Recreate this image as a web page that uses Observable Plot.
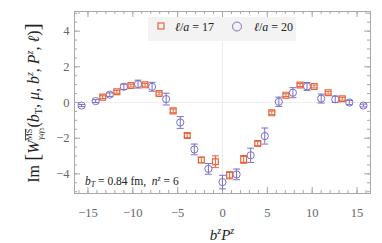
<!DOCTYPE html>
<html><head><meta charset="utf-8">
<script src="https://cdn.jsdelivr.net/npm/d3@7"></script>
<script src="https://cdn.jsdelivr.net/npm/@observablehq/plot@0.6"></script>
<style>body{margin:0;background:#fff} svg{font-family:"Liberation Serif","DejaVu Serif",serif}</style>
</head><body><div id="chart"></div><script>
// series l/a = 17 (orange squares)
const x17 = [-13.35,-11.78,-10.21,-8.64,-7.07,-5.50,-3.93,-2.36,-0.79,0.79,2.36,3.93,5.50,7.07,8.64,10.21,11.78,13.35];
const y17 = [0.30,0.60,0.95,0.99,0.50,-0.47,-1.85,-3.22,-3.32,-4.08,-3.19,-2.30,-0.58,0.41,0.98,0.90,0.55,0.21];
const e17 = [0.08,0.08,0.08,0.08,0.08,0.10,0.12,0.15,0.33,0.20,0.22,0.12,0.10,0.08,0.08,0.08,0.08,0.08];
// series l/a = 20 (purple circles)
const x20 = [-15.71,-14.14,-12.57,-11.00,-9.42,-7.85,-6.28,-4.71,-3.14,-1.57,0,1.57,3.14,4.71,6.28,7.85,9.42,11.00,12.57,14.14,15.71];
const y20 = [-0.17,0.08,0.44,0.88,1.03,0.88,0.19,-1.12,-2.63,-3.72,-4.46,-4.03,-2.96,-1.88,0.04,0.55,0.90,0.22,0.18,0.00,-0.17];
const e20 = [0.06,0.08,0.10,0.15,0.22,0.25,0.33,0.33,0.30,0.30,0.38,0.30,0.40,0.45,0.26,0.28,0.22,0.25,0.18,0.12,0.08];
const xTicks = [-15,-10,-5,0,5,10,15];
const yTicks = [-4,-2,0,2,4];
const legendLabels = ["17","20"];

const orange = "#e8643c", purple = "#7b70c6", frameC = "#a8a8a8";
const A = x17.map((x,i)=>({x, y:y17[i], e:e17[i]}));
const B = x20.map((x,i)=>({x, y:y20[i], e:e20[i]}));

const W = 382, H = 243, mL = 74, mR = 12, mT = 11, mB = 50;
const fw = W - mL - mR, fh = H - mT - mB;
const cap = {draw(ctx){ ctx.moveTo(-3.5,0); ctx.lineTo(3.5,0); }};
const xMinor = d3.range(-16,17), xMajor = xTicks;
const yMinor = d3.range(-5,5.01,0.5), yMajor = yTicks;

function errMarks(D, color){
  return [
    Plot.ruleX(D,{x:"x", y1:d=>d.y-d.e, y2:d=>d.y+d.e, stroke:color, strokeWidth:1}),
    Plot.dot(D,{x:"x", y:d=>d.y+d.e, symbol:cap, r:1, stroke:color, strokeWidth:1}),
    Plot.dot(D,{x:"x", y:d=>d.y-d.e, symbol:cap, r:1, stroke:color, strokeWidth:1})
  ];
}

const chart = Plot.plot({
  width: W, height: H, marginLeft: mL, marginRight: mR, marginTop: mT, marginBottom: mB,
  x: {domain:[-16.5,16.5]},
  y: {domain:[-5.1,5.1]},
  style: {fontFamily:"Liberation Serif, serif", background:"#fff"},
  marks: [
    Plot.ruleX([0],{stroke:"#ededed"}),
    Plot.ruleY([0],{stroke:"#ededed"}),
    Plot.tickX(xMinor,{x:d=>d, insetTop:fh-3, stroke:frameC}),
    Plot.tickX(xMajor,{x:d=>d, insetTop:fh-6, stroke:frameC}),
    Plot.tickX(xMinor,{x:d=>d, insetBottom:fh-3, stroke:frameC}),
    Plot.tickX(xMajor,{x:d=>d, insetBottom:fh-6, stroke:frameC}),
    Plot.tickY(yMinor,{y:d=>d, insetRight:fw-3, stroke:frameC}),
    Plot.tickY(yMajor,{y:d=>d, insetRight:fw-6, stroke:frameC}),
    Plot.tickY(yMinor,{y:d=>d, insetLeft:fw-3, stroke:frameC}),
    Plot.tickY(yMajor,{y:d=>d, insetLeft:fw-6, stroke:frameC}),
    Plot.frame({stroke:frameC}),
    ...errMarks(B, purple),
    ...errMarks(A, orange),
    Plot.dot(B,{x:"x", y:"y", r:3.6, stroke:purple, strokeWidth:1, fill:"none"}),
    Plot.dot(A,{x:"x", y:"y", symbol:"square", r:3.3, stroke:orange, strokeWidth:1.2, fill:"none"}),
    Plot.axisX({ticks:xTicks, tickSize:0, tickPadding:15, fontSize:12.5, fill:"#666", label:null}),
    Plot.axisY({ticks:yTicks, tickSize:0, tickPadding:5, fontSize:12.5, fill:"#666", label:null})
  ]
});
document.getElementById("chart").append(chart);
const svg = d3.select(chart);

function rich(sel, segs){
  let cur = 0;
  for (const s of segs){
    const sh = s.shift||0;
    const t = sel.append("tspan").text(s.t);
    if (s.size) t.attr("font-size", s.size);
    if (s.it) t.attr("font-style","italic");
    if (sh !== cur) t.attr("dy", sh - cur);
    if (s.dx) t.attr("dx", s.dx);
    if (s.deco) t.attr("text-decoration", s.deco);
    cur = sh;
  }
}

// y label
const yl = svg.append("text").attr("transform","translate(39,103) rotate(-90)")
  .attr("text-anchor","middle").attr("font-size",16).attr("fill","#222");
rich(yl, [
  {t:"Im "},
  {t:"[", size:22},
  {t:"W", it:true},
  {t:"MS", size:8, shift:-7, deco:"overline"},
  {t:"γ", size:8, shift:4, dx:-11, it:true},
  {t:"4", size:6, shift:5},
  {t:"γ", size:8, shift:4, it:true},
  {t:"5", size:6, shift:5},
  {t:"(", shift:0},
  {t:"b", it:true},
  {t:"T", size:10, shift:3},
  {t:", μ, ", shift:0, it:true},
  {t:"b", it:true},
  {t:"z", size:10, shift:-6, it:true},
  {t:", ", shift:0},
  {t:"P", it:true},
  {t:"z", size:10, shift:-6, it:true},
  {t:", ", shift:0},
  {t:"ℓ", it:true},
  {t:")"},
  {t:"]", size:22}
]);

// x label
const xl = svg.append("text").attr("x", 222).attr("y", 240).attr("text-anchor","middle")
  .attr("font-size",15).attr("fill","#222");
rich(xl, [
  {t:"b", it:true},
  {t:"z", size:10, shift:-6, it:true},
  {t:"P", shift:0, it:true},
  {t:"z", size:10, shift:-6, it:true}
]);

// annotation
const an = svg.append("text").attr("x", 85).attr("y", 185).attr("text-anchor","start")
  .attr("font-size",11.5).attr("fill","#222");
rich(an, [
  {t:"b", it:true},
  {t:"T", size:8, shift:2, it:true},
  {t:" = 0.84 fm,  ", shift:0},
  {t:"n", it:true},
  {t:"z", size:8, shift:-4, it:true},
  {t:" = 6", shift:0}
]);

// legend
const lg = svg.append("g");
lg.append("rect").attr("x",148).attr("y",17).attr("width",148).attr("height",24).attr("fill","#f3f3f3");
lg.append("rect").attr("x",158).attr("y",23).attr("width",6).attr("height",6)
  .attr("fill","none").attr("stroke",orange).attr("stroke-width",1.2);
lg.append("circle").attr("cx",237).attr("cy",26.5).attr("r",4.5)
  .attr("fill","none").attr("stroke",purple).attr("stroke-width",1);
[[175,legendLabels[0]],[254,legendLabels[1]]].forEach(([x,lab])=>{
  const t = lg.append("text").attr("x",x).attr("y",31).attr("text-anchor","start")
    .attr("font-size",12).attr("fill","#222");
  rich(t, [{t:"ℓ", it:true},{t:"/"},{t:"a", it:true},{t:" = "+lab}]);
});
</script></body></html>
